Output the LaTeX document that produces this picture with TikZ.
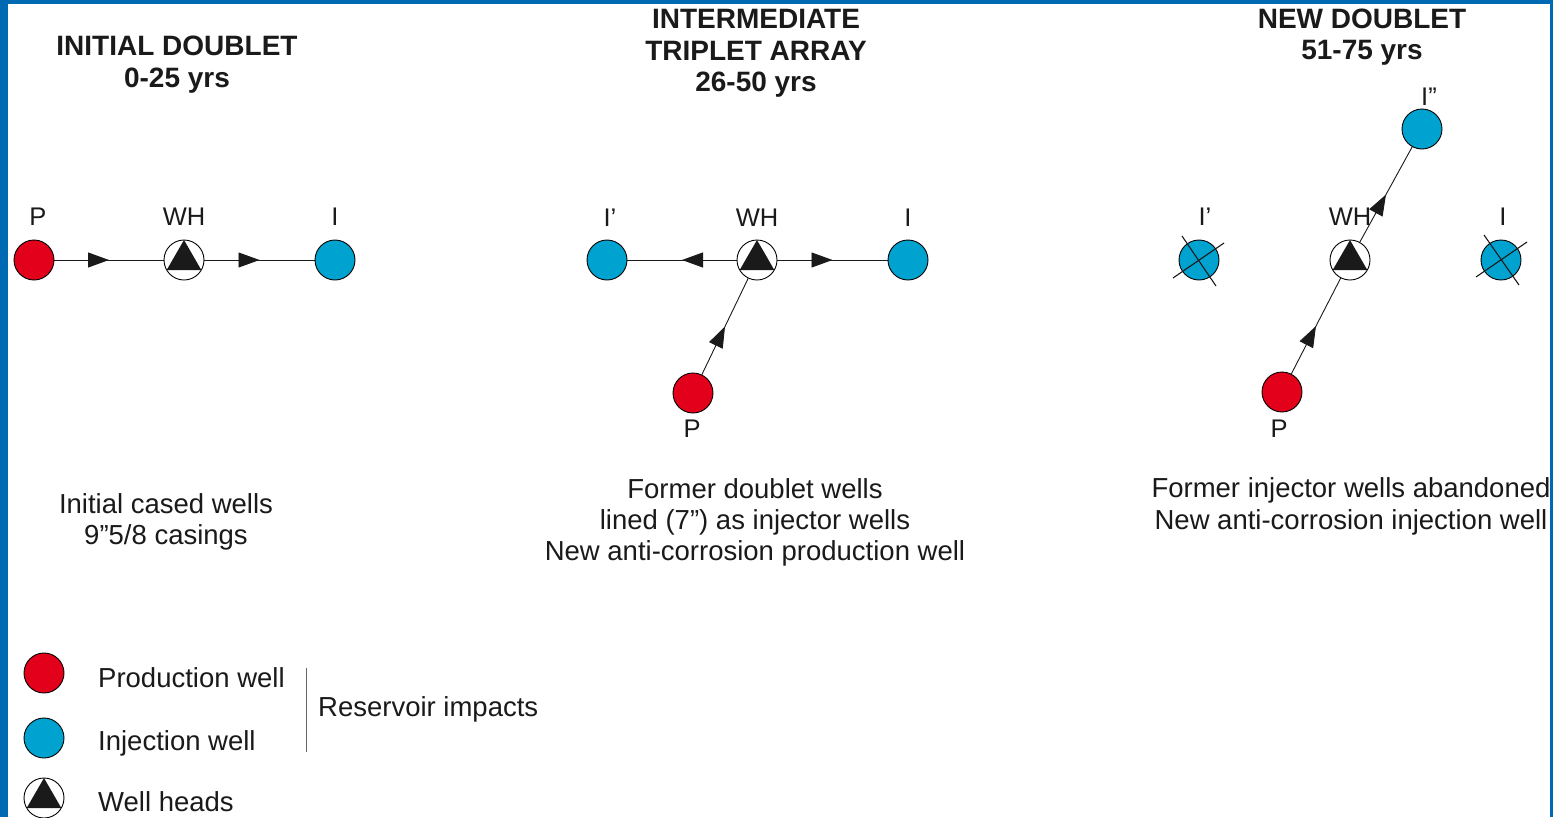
\documentclass[tikz,border=0pt]{standalone}
\usepackage{fontspec}
\setmainfont{Liberation Sans}
\usetikzlibrary{arrows.meta,decorations.markings,calc}
\definecolor{prodred}{HTML}{E2001A}
\definecolor{injblue}{HTML}{00A3CF}
\definecolor{frameblue}{HTML}{0069B4}
\definecolor{inkgray}{HTML}{1A1A1A}
\tikzset{
  wellbase/.style={circle, draw=black, line width=0.9pt, minimum size=40pt, inner sep=0pt},
  prod/.style={wellbase, fill=prodred},
  inj/.style={wellbase, fill=injblue},
  wellhead/.style={wellbase, fill=white,
    path picture={\fill[inkgray] (path picture bounding box.center) ++(0pt,20pt) -- ++(-17.32pt,-30pt) -- ++(34.64pt,0pt) -- cycle;}},
  lbl/.style={font=\fontsize{25.5}{30}\selectfont, anchor=base, inner sep=0pt, text=inkgray},
  txt/.style={font=\fontsize{27.5}{31}\selectfont, anchor=base, inner sep=0pt, text=inkgray},
  ttl/.style={font=\bfseries\fontsize{28}{32}\selectfont, anchor=base, inner sep=0pt, text=inkgray},
  flow/.style={draw=inkgray, line width=0.9pt, postaction={decorate},
    decoration={markings, mark=at position 0.5 with {\arrow{Triangle[length=21pt,width=15pt]}}}},
  xline/.style={draw=inkgray, line width=1.1pt},
}
\begin{document}
\begin{tikzpicture}[x=1pt,y=-1pt]
\useasboundingbox (0,0) rectangle (1553,817);
\fill[white] (0,0) rectangle (1553,817);

% ---------- Panel 1 ----------
\node[ttl] (t1a) at (177,55) {INITIAL DOUBLET};
\node[ttl] (t1b) at (177,87) {0-25 yrs};
\node[prod] (p1) at (34,260) {};
\node[wellhead] (wh1) at (184,260) {};
\node[inj] (i1) at (335,260) {};
\node[lbl] (lp1) at (38,225) {P};
\node[lbl] (lwh1) at (184,225) {WH};
\node[lbl] (li1) at (335,225) {I};
\path[flow] (p1) -- (wh1);
\path[flow] (wh1) -- (i1);
\node[txt] (d1a) at (166,513) {Initial cased wells};
\node[txt] (d1b) at (166,544) {9”5/8 casings};

% ---------- Panel 2 ----------
\node[ttl] (t2a) at (756,28) {INTERMEDIATE};
\node[ttl] (t2b) at (756,60) {TRIPLET ARRAY};
\node[ttl] (t2c) at (756,91) {26-50 yrs};
\node[inj] (ia2) at (607,260) {};
\node[wellhead] (wh2) at (757,260) {};
\node[inj] (i2) at (908,260) {};
\node[prod] (p2) at (693,393) {};
\node[lbl] (lia2) at (610,226) {I’};
\node[lbl] (lwh2) at (757,226) {WH};
\node[lbl] (li2) at (908,226) {I};
\node[lbl] (lp2) at (692,437) {P};
\path[flow] (wh2) -- (ia2);
\path[flow] (wh2) -- (i2);
\path[flow] (p2) -- (wh2);
\node[txt] (d2a) at (755,498) {Former doublet wells};
\node[txt] (d2b) at (755,529) {lined (7”) as injector wells};
\node[txt] (d2c) at (755,560) {New anti-corrosion production well};

% ---------- Panel 3 ----------
\node[ttl] (t3a) at (1362,28) {NEW DOUBLET};
\node[ttl] (t3b) at (1362,59) {51-75 yrs};
\node[inj] (ia3) at (1199,260) {};
\node[wellhead] (wh3) at (1350,260) {};
\node[inj] (i3) at (1501,260) {};
\node[inj] (ib3) at (1422,129) {};
\node[prod] (p3) at (1282,392) {};
\draw[xline] ([shift={(-26,18)}]ia3.center) -- ([shift={(25,-17)}]ia3.center);
\draw[xline] ([shift={(-17,-24)}]ia3.center) -- ([shift={(17,26)}]ia3.center);
\draw[xline] ([shift={(-25,17)}]i3.center) -- ([shift={(26,-18)}]i3.center);
\draw[xline] ([shift={(-17,-25)}]i3.center) -- ([shift={(18,25)}]i3.center);
\node[lbl] (lia3) at (1205,225) {I’};
\node[lbl] (lwh3) at (1350,225) {WH};
\node[lbl] (li3) at (1503,225) {I};
\node[lbl] (lib3) at (1429,105) {I”};
\node[lbl] (lp3) at (1279,437) {P};
\path[flow] (p3) -- (wh3);
\path[flow] (wh3) -- (ib3);
\node[txt] (d3a) at (1351,497) {Former injector wells abandoned};
\node[txt] (d3b) at (1351,529) {New anti-corrosion injection well};

% ---------- Legend ----------
\node[prod] (gp) at (44,673) {};
\node[inj] (gi) at (44,738) {};
\node[wellhead] (gw) at (44,798) {};
\node[txt, anchor=base west] (gpt) at (98,687) {Production well};
\node[txt, anchor=base west] (git) at (98,750) {Injection well};
\node[txt, anchor=base west] (gwt) at (98,811) {Well heads};
\coordinate (bt) at (306,668);
\coordinate (bb) at (306,752);
\draw[gray!80!black, line width=1pt] (bt) -- (bb);
\node[txt, anchor=base west] (res) at (318,716) {Reservoir impacts};

% ---------- Frame ----------
\fill[frameblue] (0,0) rectangle (8,817);
\fill[frameblue] (0,0) rectangle (1553,4);
\fill[frameblue] (1550,0) rectangle (1553,817);
\end{tikzpicture}
\end{document}
